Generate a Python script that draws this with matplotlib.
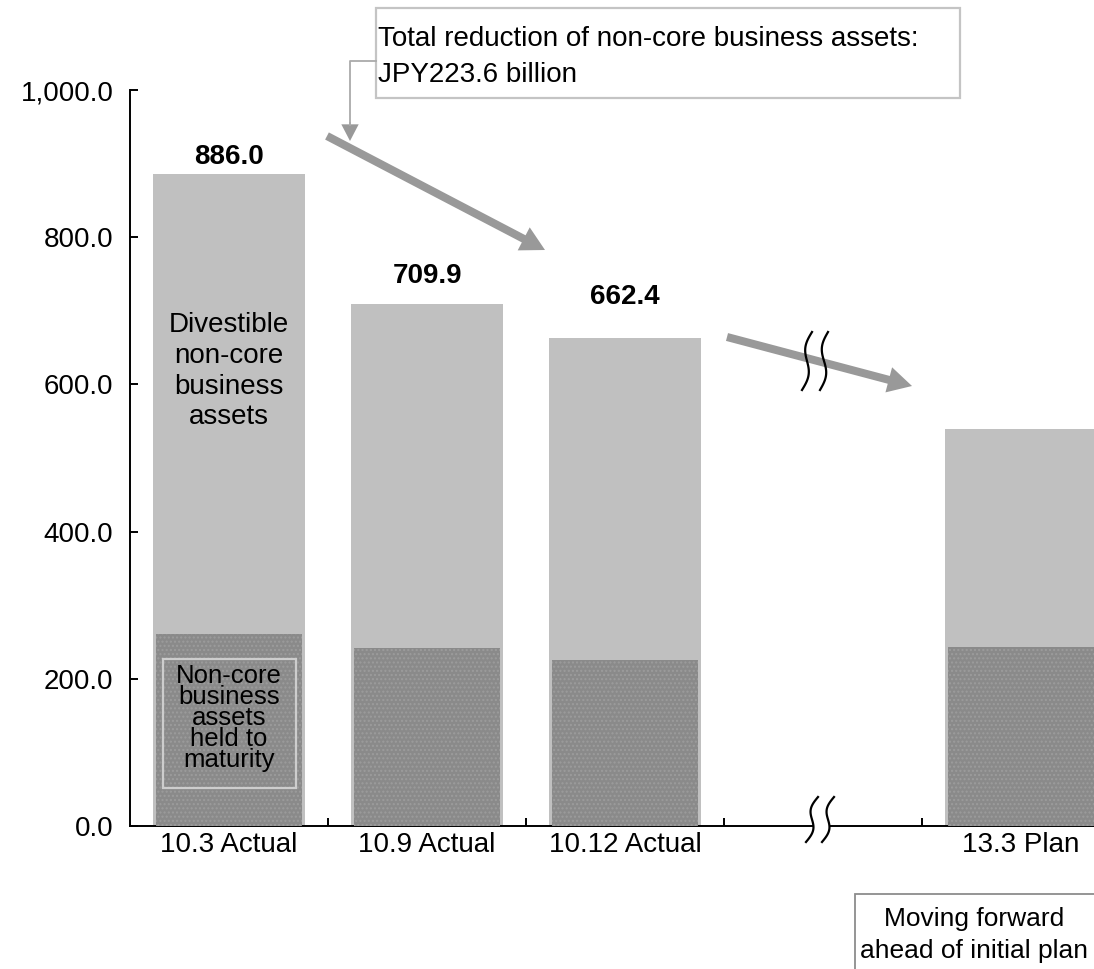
import numpy as np
import matplotlib
matplotlib.use("Agg")
import matplotlib.pyplot as plt
from matplotlib.patches import Rectangle, Polygon
from matplotlib.lines import Line2D
from matplotlib.ticker import FuncFormatter

plt.rcParams['font.family'] = ['Liberation Sans', 'DejaVu Sans']
plt.rcParams['hatch.linewidth'] = 1.0

# JPY billion, non-core business assets
categories = ["10.3 Actual", "10.9 Actual", "10.12 Actual", "", "13.3 Plan"]
total_assets = [886.0, 709.9, 662.4, 0.0, 540.0]
held_to_maturity = [261.0, 242.0, 225.0, 0.0, 243.0]
labelled = [0, 1, 2]
label_offsets_pt = [12.2, 19.8, 29.9]

W, H = 1094, 969
fig = plt.figure(figsize=(W / 100, H / 100), dpi=100)


def fp(x, y):
    # pixel position (from top-left) -> figure fraction
    return x / W, 1 - y / H


ax = fig.add_axes([130 / W, (H - 826) / H, (W - 130) / W, (826 - 90) / H])

x = np.arange(len(categories))
light = "#c0c0c0"
dark = "#8a8a8a"
ax.bar(x, total_assets, width=0.77, color=light, linewidth=0, zorder=2)
ax.bar(x, held_to_maturity, width=0.74, color=dark, edgecolor="#9c9c9c",
       hatch="....", linewidth=0, zorder=3)

for i, off in zip(labelled, label_offsets_pt):
    ax.annotate(f"{total_assets[i]:.1f}", xy=(x[i], total_assets[i]),
                xytext=(0, off), textcoords="offset points",
                ha="center", va="center", fontsize=20, fontweight="bold")

ax.text(0, 618, "Divestible\nnon-core\nbusiness\nassets", ha="center",
        va="center", fontsize=20, linespacing=1.24, zorder=5)
ax.text(0, 147, "Non-core\nbusiness\nassets\nheld to\nmaturity", ha="center",
        va="center", fontsize=18.5, linespacing=0.84, zorder=5)
ax.add_patch(Rectangle((-0.335, 52), 0.675, 175, fill=False,
                       edgecolor="#cdcdcd", linewidth=1.6, zorder=4))

ax.set_xlim(-0.5, -0.5 + (W - 130) / 198)
ax.set_ylim(0, 1000)
ax.set_yticks(np.arange(0, 1001, 200))
ax.yaxis.set_major_formatter(FuncFormatter(lambda v, p: f"{v:,.1f}"))
ax.set_xticks([0, 1, 2, 4])
ax.set_xticklabels([categories[i] for i in [0, 1, 2, 4]])
ax.set_xticks([0.5, 1.5, 2.5, 3.5], minor=True)
ax.tick_params(axis="x", which="major", length=0, pad=4, labelsize=20)
ax.tick_params(axis="x", which="minor", direction="in", length=6, width=1.4)
ax.tick_params(axis="y", direction="in", length=6, width=1.4, pad=12,
               labelsize=20)
for s in ["top", "right"]:
    ax.spines[s].set_visible(False)
for s in ["left", "bottom"]:
    ax.spines[s].set_linewidth(1.4)

# big trend arrows
arrow_kw = dict(arrowstyle="simple,head_length=1.73,head_width=1.87,tail_width=0.58",
                mutation_scale=10, color="#999999", shrinkA=0, shrinkB=0,
                linewidth=0)
ax.annotate("", xy=(545, H - 250), xytext=(327, H - 136),
            xycoords="figure pixels", textcoords="figure pixels",
            arrowprops=arrow_kw, zorder=6)
ax.annotate("", xy=(912, H - 386), xytext=(727, H - 337),
            xycoords="figure pixels", textcoords="figure pixels",
            arrowprops=arrow_kw, zorder=6)


# break marks
def break_mark(xt, yt, xb, yb, amp=4):
    t = np.linspace(0, 1, 60)
    xs = xt + (xb - xt) * t - amp * np.sin(2 * np.pi * t)
    ys = yt + (yb - yt) * t
    return xs, ys


def draw_curve(xs, ys):
    fx, fy = zip(*[fp(a, b) for a, b in zip(xs, ys)])
    fig.add_artist(Line2D(fx, fy, color="black", lw=1.6,
                          transform=fig.transFigure, zorder=8))


xa, ya = break_mark(818, 797, 806, 842)
xb_, yb_ = break_mark(834, 797, 822, 842)
pts = [fp(a, b) for a, b in zip(xa, ya)] + [fp(a, b) for a, b in zip(xb_[::-1], yb_[::-1])]
fig.add_artist(Polygon(pts, closed=True, facecolor="white", edgecolor="none",
                       transform=fig.transFigure, zorder=7))
draw_curve(xa, ya)
draw_curve(xb_, yb_)

for (xt, yt, xb, yb) in [(812, 332, 802, 390), (828, 332, 820, 390)]:
    draw_curve(*break_mark(xt, yt, xb, yb))

# callout box at the top
x0, y0 = fp(376, 98)
fig.add_artist(Rectangle((x0, y0), 584 / W, 90 / H, fill=False, edgecolor="#c4c4c4",
                         linewidth=1.6, transform=fig.transFigure))
fig.text(*fp(378, 57), "Total reduction of non-core business assets:\nJPY223.6 billion",
         ha="left", va="center", fontsize=20, linespacing=1.54)
fx, fy = zip(fp(376, 61), fp(350, 61), fp(350, 125))
fig.add_artist(Line2D(fx, fy, color="#aaaaaa", lw=1.3, transform=fig.transFigure))
ax.annotate("", xy=(350, H - 141), xytext=(350, H - 122),
            xycoords="figure pixels", textcoords="figure pixels",
            arrowprops=dict(arrowstyle="simple,head_length=1.2,head_width=1.25,tail_width=0.1",
                            mutation_scale=10, color="#999999", shrinkA=0, shrinkB=0,
                            linewidth=0))

# note box at the bottom right
x0, y0 = fp(855, 985)
fig.add_artist(Rectangle((x0, y0), 260 / W, 91 / H, fill=False, edgecolor="#8c8c8c",
                         linewidth=1.3, transform=fig.transFigure))
fig.text(*fp(974, 935), "Moving forward\nahead of initial plan", ha="center",
         va="center", fontsize=19, linespacing=1.45)

fig.savefig("out.png", dpi=100)
